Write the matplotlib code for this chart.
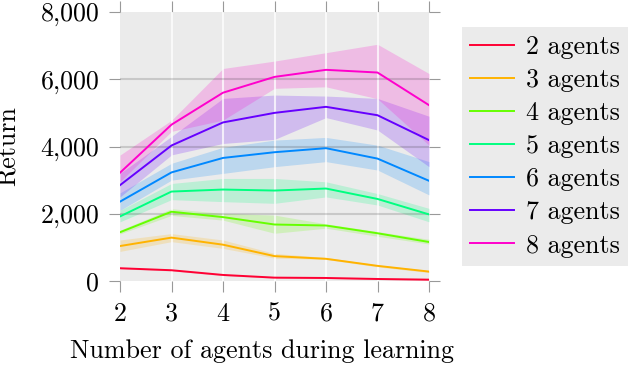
import numpy as np
import matplotlib
matplotlib.use("Agg")
import matplotlib.pyplot as plt

plt.rcParams['font.family'] = 'serif'
plt.rcParams['font.serif'] = ['cmr10']
plt.rcParams['mathtext.fontset'] = 'cm'
plt.rcParams['axes.unicode_minus'] = False

font_size = 18.7

# number of agents during learning
x = [2, 3, 4, 5, 6, 7, 8]

# mean return for each evaluation team size
mean_2 = [380, 320, 180, 100, 90, 60, 40]
mean_3 = [1040, 1290, 1080, 740, 660, 450, 280]
mean_4 = [1450, 2060, 1900, 1680, 1650, 1420, 1160]
mean_5 = [1920, 2660, 2720, 2690, 2750, 2440, 1980]
mean_6 = [2360, 3230, 3660, 3830, 3950, 3640, 2980]
mean_7 = [2850, 4030, 4716, 5000, 5180, 4930, 4190]
mean_8 = [3220, 4650, 5600, 6070, 6280, 6200, 5230]

# shaded band, lower / upper
low_2 = [360, 300, 160, 85, 75, 45, 25]
up_2 = [400, 340, 200, 115, 105, 75, 55]
low_3 = [880, 1170, 970, 680, 640, 420, 250]
up_3 = [1220, 1410, 1220, 820, 700, 480, 310]
low_4 = [1400, 1950, 1810, 1420, 1570, 1330, 1100]
up_4 = [1510, 2150, 2010, 1960, 1700, 1470, 1240]
low_5 = [1760, 2420, 2360, 2310, 2500, 2260, 1760]
up_5 = [2100, 2900, 3050, 3050, 2950, 2600, 2160]
low_6 = [2100, 3000, 3200, 3400, 3550, 3300, 2560]
up_6 = [2620, 3500, 3975, 4190, 4270, 4040, 3550]
low_7 = [2500, 3750, 4090, 4210, 4860, 4490, 3400]
up_7 = [3200, 4300, 5430, 5530, 5500, 5430, 4900]
low_8 = [2950, 4450, 4785, 5730, 5775, 5420, 4040]
up_8 = [3745, 4780, 6320, 6540, 6790, 7040, 6170]

labels = ['2 agents', '3 agents', '4 agents', '5 agents', '6 agents', '7 agents', '8 agents']
colores = ['#ff0033', '#ffb300', '#66ff00', '#00ff80', '#0088ff', '#6600ff', '#ff00cc']

means = [mean_2, mean_3, mean_4, mean_5, mean_6, mean_7, mean_8]
lows = [low_2, low_3, low_4, low_5, low_6, low_7, low_8]
ups = [up_2, up_3, up_4, up_5, up_6, up_7, up_8]

yticks = [0, 2000, 4000, 6000, 8000]
yticklabels = ['0', '2,000', '4,000', '6,000', '8,000']

fig = plt.figure(figsize=(6.34, 3.66), dpi=100)
ax = fig.add_axes([120/634, 1-281/366, 309/634, 269/366])
ax.set_facecolor('#ebebeb')

for lo, up, c in zip(lows, ups, colores):
    ax.fill_between(x, lo, up, color=c, alpha=0.2, linewidth=0, zorder=1)

# grid over the bands, below the lines
for xv in x[1:-1]:
    ax.axvline(xv, color='white', alpha=0.75, linewidth=1.5, zorder=2)
for yv in yticks[1:-1]:
    ax.axhline(yv, color='black', alpha=0.15, linewidth=1.5, zorder=2)

for m, c, lab in zip(means, colores, labels):
    ax.plot(x, m, color=c, linewidth=1.4, label=lab, zorder=3)

ax.set_xlim(2, 8)
ax.set_ylim(0, 8000)
ax.set_xticks(x)
ax.set_yticks(yticks)
ax.set_yticklabels(yticklabels)
for s in ax.spines.values():
    s.set_visible(False)
ax.tick_params(direction='out', length=8, width=0.8, color='#999999',
               labelsize=font_size, pad=7, top=True, right=True)

ax.set_xlabel('Number of agents during learning', fontsize=font_size)
ax.set_ylabel('Return', fontsize=font_size)
ax.xaxis.set_label_coords(0.458, -0.215)
ax.yaxis.set_label_coords(-0.325, 0.5)

leg = ax.legend(loc='upper left', bbox_to_anchor=(462/634, 1-27/366),
                bbox_transform=fig.transFigure, fontsize=font_size,
                frameon=True, fancybox=False, facecolor='#ebebeb', edgecolor='none',
                framealpha=1, handlelength=1.7, handletextpad=0.45,
                labelspacing=0.36, borderpad=0.32, borderaxespad=0)

fig.savefig('out.png', dpi=100)
